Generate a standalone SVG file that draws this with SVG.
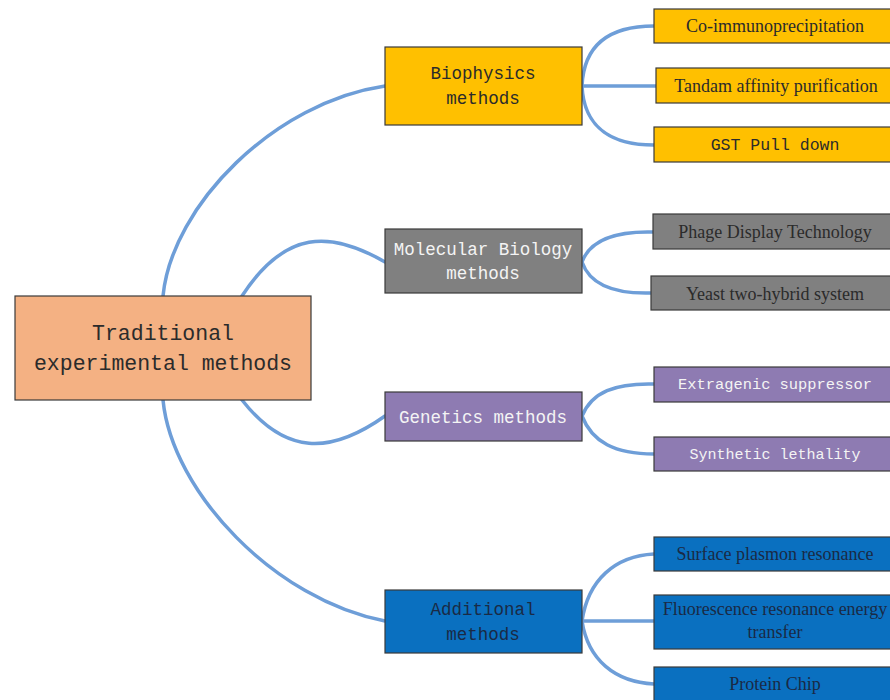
<svg xmlns="http://www.w3.org/2000/svg" width="890" height="700" viewBox="0 0 890 700">
<style>
.box{stroke:#3a3a3a;stroke-width:1.2}
.root{fill:#F4B183}
.yel{fill:#FFC000}
.gry{fill:#808080}
.pur{fill:#8E7BB2}
.blu{fill:#0A70C0}
.mono{font-family:"Liberation Mono",monospace;text-anchor:middle}
.serif{font-family:"Liberation Serif",serif;text-anchor:middle;font-size:18px}
.dk{fill:#2b2b2b}
.wh{fill:#f4f4f4}
.nv{fill:#1a2a45}
.conn path{fill:none;stroke:#6E9ED8;stroke-width:3.5;stroke-linecap:round}
</style>
<rect width="890" height="700" fill="#ffffff"/>
<g class="conn" id="connectors">
<path d="M163,296 C172,205 275,102 385,86"/>
<path d="M242,296 C285,230 330,230 385,262"/>
<path d="M242,400 C285,455 330,455 385,416"/>
<path d="M163,400 C172,492 275,600 385,621"/>
<path d="M582,86 C584,40 615,26 654,26"/>
<path d="M582,86 L656,86"/>
<path d="M582,86 C584,130 615,145 654,145"/>
<path d="M582,262 C590,240 615,231 653,232"/>
<path d="M582,262 C590,285 615,294 651,293"/>
<path d="M582,416 C592,392 615,383 654,384"/>
<path d="M582,416 C592,442 615,454 654,454"/>
<path d="M582,621 C588,580 615,556 654,554"/>
<path d="M582,621 L654,621"/>
<path d="M582,621 C588,660 615,682 654,684"/>
</g>
<g id="root">
<rect class="box root" x="15" y="296" width="296" height="104"/>
<text class="mono dk" x="163" y="340" font-size="21.5">Traditional</text>
<text class="mono dk" x="163" y="370" font-size="21.5">experimental methods</text>
</g>
<g id="biophysics">
<rect class="box yel" x="385" y="47" width="197" height="78"/>
<text class="mono dk" x="483" y="79" font-size="17.5">Biophysics</text>
<text class="mono dk" x="483" y="104" font-size="17.5">methods</text>
</g>
<g id="molecular">
<rect class="box gry" x="385" y="229" width="197" height="64"/>
<text class="mono wh" x="483" y="255" font-size="17.5">Molecular Biology</text>
<text class="mono wh" x="483" y="279" font-size="17.5">methods</text>
</g>
<g id="genetics">
<rect class="box pur" x="385" y="392" width="197" height="49"/>
<text class="mono wh" x="483" y="423" font-size="17.5">Genetics methods</text>
</g>
<g id="additional">
<rect class="box blu" x="385" y="590" width="197" height="63"/>
<text class="mono nv" x="483" y="615" font-size="17.5">Additional</text>
<text class="mono nv" x="483" y="640" font-size="17.5">methods</text>
</g>
<g id="coip">
<rect class="box yel" x="654" y="9" width="242" height="34"/>
<text class="serif dk" x="775" y="32">Co-immunoprecipitation</text>
</g>
<g id="tap">
<rect class="box yel" x="656" y="68" width="240" height="35"/>
<text class="serif dk" x="776" y="92">Tandam affinity purification</text>
</g>
<g id="gst">
<rect class="box yel" x="654" y="127" width="242" height="35"/>
<text class="mono dk" x="775" y="150" font-size="16.5">GST Pull down</text>
</g>
<g id="phage">
<rect class="box gry" x="653" y="214" width="243" height="35"/>
<text class="serif dk" x="775" y="238">Phage Display Technology</text>
</g>
<g id="yeast">
<rect class="box gry" x="651" y="276" width="245" height="34"/>
<text class="serif dk" x="775" y="300">Yeast two-hybrid system</text>
</g>
<g id="extragenic">
<rect class="box pur" x="654" y="367" width="242" height="35"/>
<text class="mono wh" x="775" y="389" font-size="15.4">Extragenic suppressor</text>
</g>
<g id="synthetic">
<rect class="box pur" x="654" y="437" width="242" height="34"/>
<text class="mono wh" x="775" y="459" font-size="15">Synthetic lethality</text>
</g>
<g id="spr">
<rect class="box blu" x="654" y="537" width="242" height="34"/>
<text class="serif nv" x="775" y="560">Surface plasmon resonance</text>
</g>
<g id="fret">
<rect class="box blu" x="654" y="595" width="242" height="54"/>
<text class="serif nv" x="775" y="615">Fluorescence resonance energy</text>
<text class="serif nv" x="775" y="638">transfer</text>
</g>
<g id="chip">
<rect class="box blu" x="654" y="667" width="242" height="40"/>
<text class="serif nv" x="775" y="690">Protein Chip</text>
</g>
</svg>
